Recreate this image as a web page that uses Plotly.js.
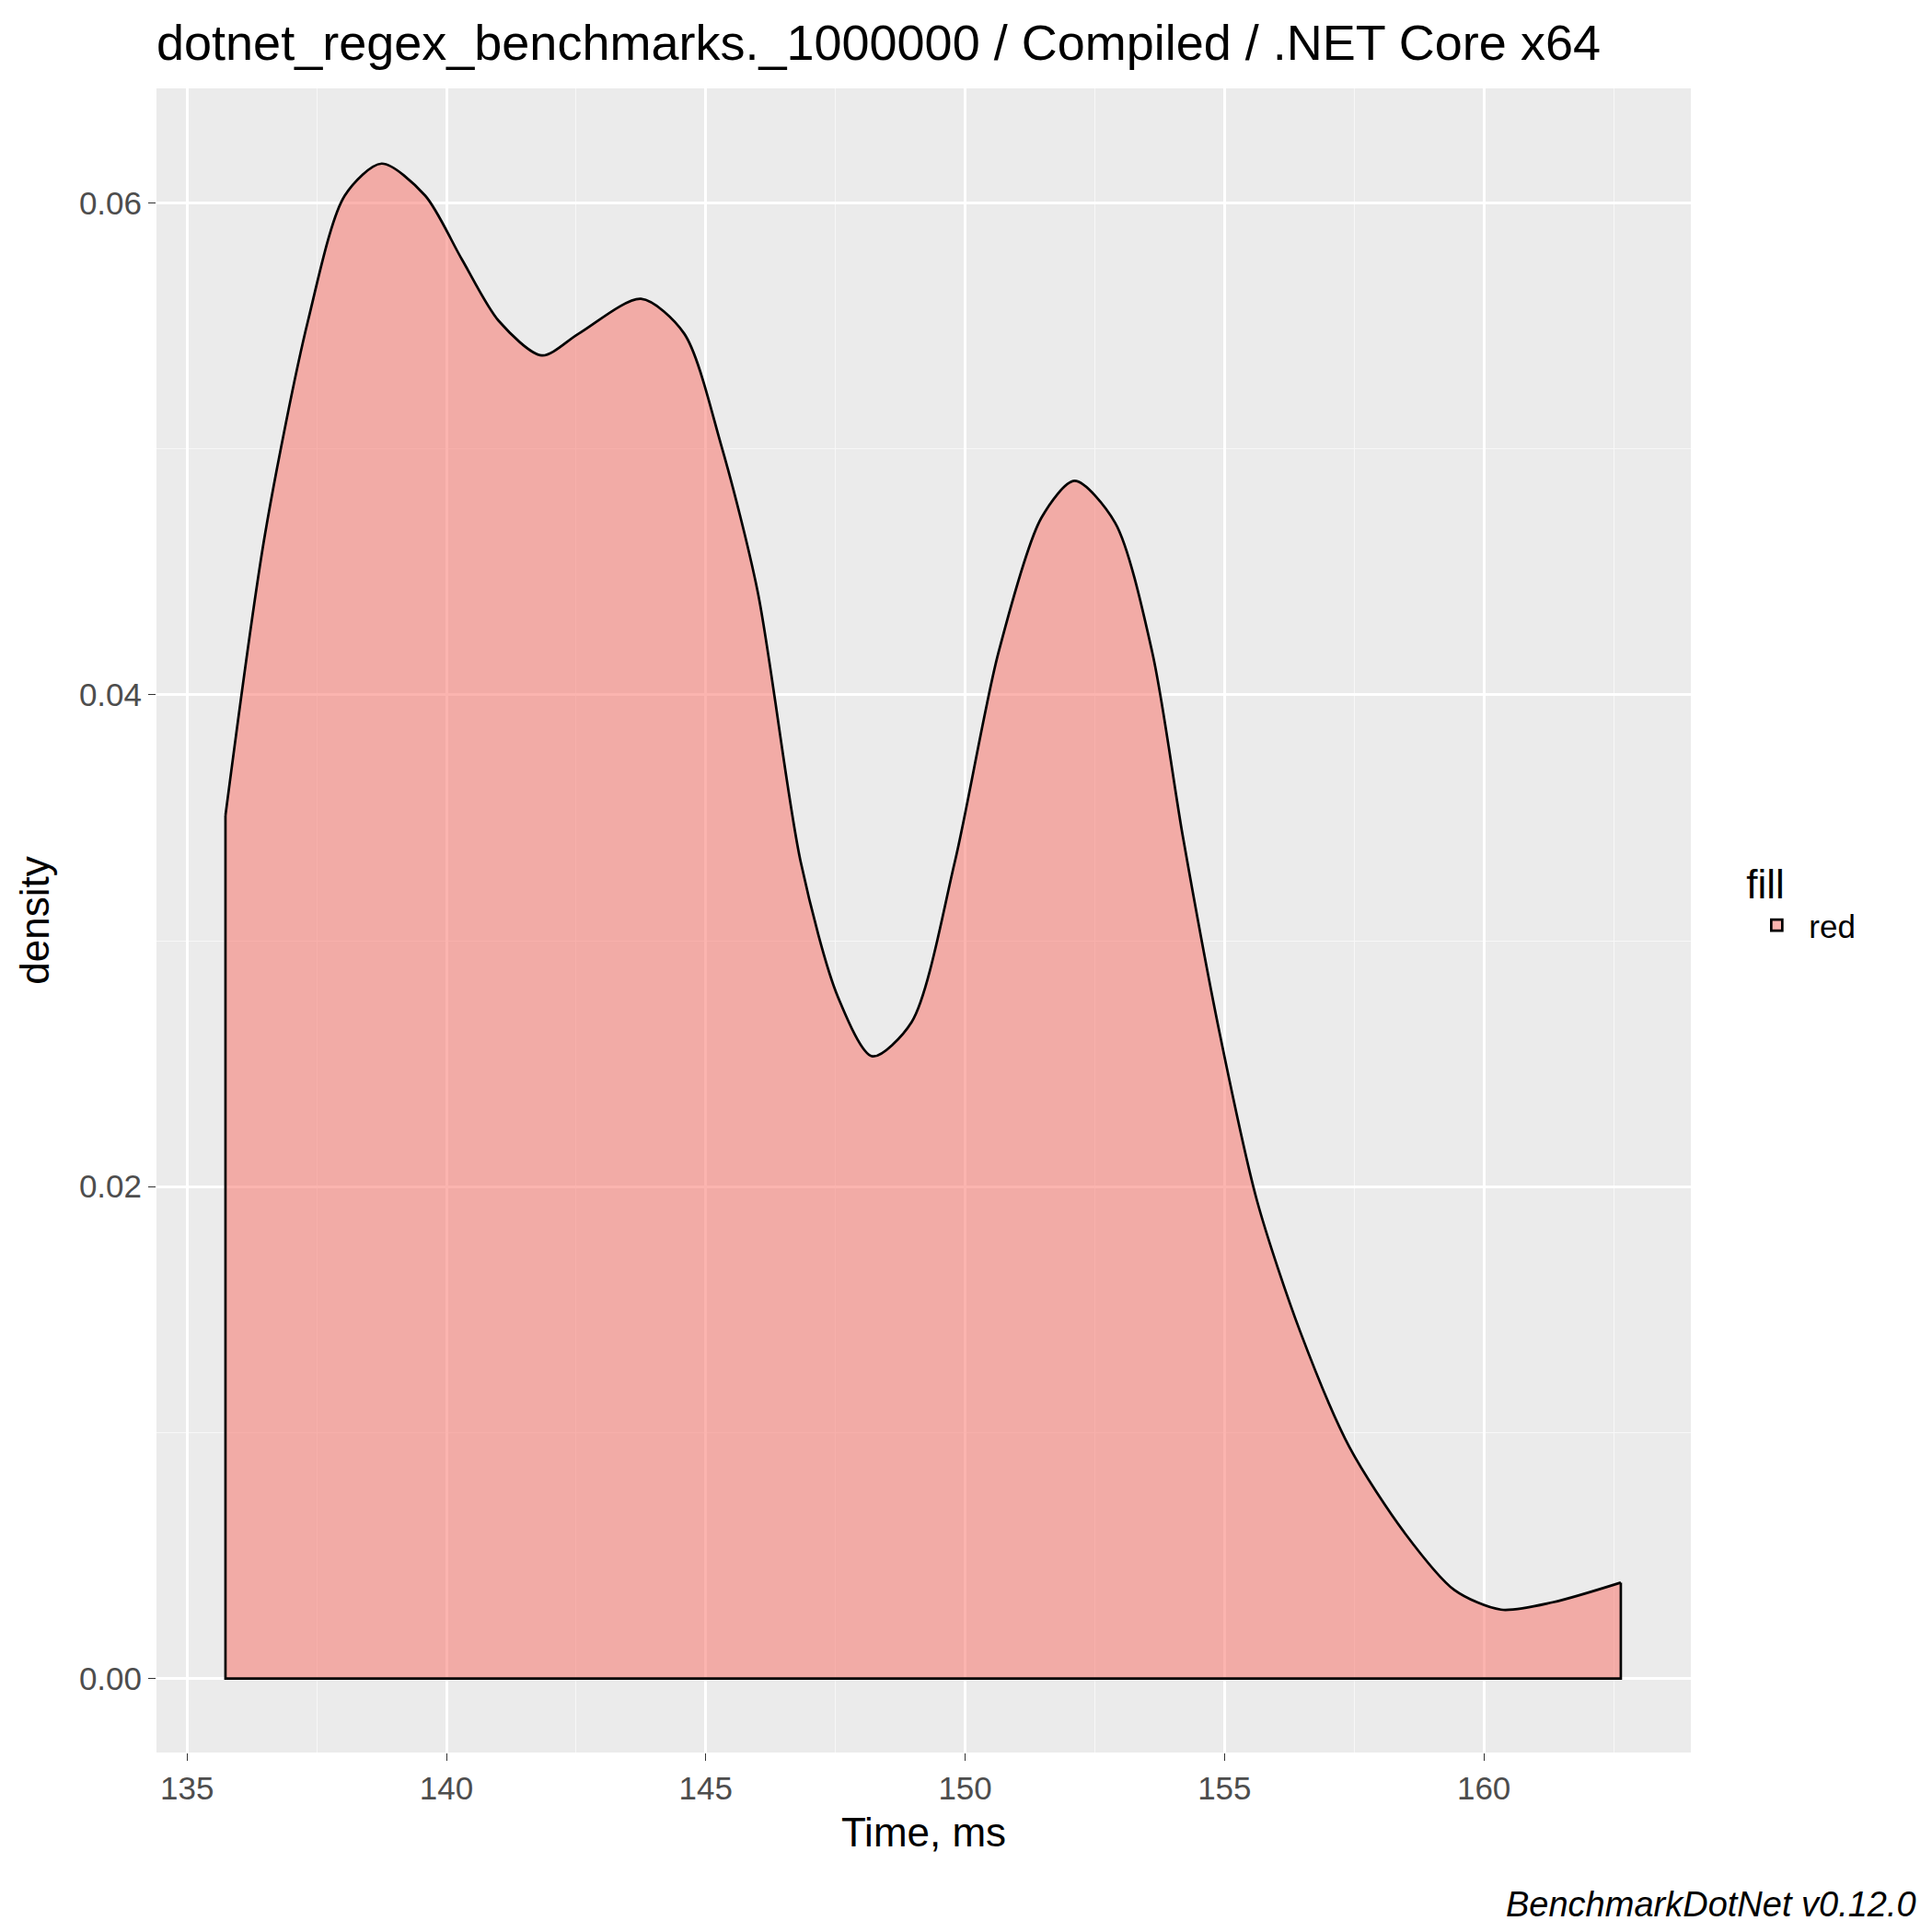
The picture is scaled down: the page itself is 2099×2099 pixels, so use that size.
<!DOCTYPE html>
<html><head><script src="https://cdn.plot.ly/plotly-3.0.1.min.js"></script>
<style>body{margin:0}</style></head><body>
<div id="c" style="width:2099px;height:2099px"></div>
<script>
const timeMs = [135.74,136.50,137.33,138.04,138.75,139.59,140.30,141.01,141.84,142.56,143.75,144.58,145.29,146.00,146.83,147.55,148.21,148.97,149.80,150.64,151.47,152.11,152.89,153.61,154.20,154.91,155.63,156.46,157.41,158.48,159.43,160.33,161.33,162.64];
const density = [0.0351,0.0465,0.0552,0.0603,0.0616,0.0603,0.0577,0.0552,0.0538,0.0547,0.0561,0.0547,0.0502,0.0442,0.0332,0.0277,0.0253,0.0267,0.0332,0.0417,0.0472,0.0487,0.0470,0.0417,0.0342,0.0262,0.0194,0.0141,0.0094,0.0059,0.0036,0.0028,0.0031,0.0039];
const n = timeMs.length;
const fillCol = 'rgba(248,118,109,0.55)';
const tickFont = {family:'Liberation Sans, Arial', size:35, color:'#4d4d4d'};
Plotly.newPlot('c', [
 {x: timeMs, y: density, type:'scatter', mode:'lines', fill:'tozeroy', fillcolor:fillCol,
  line:{color:'black', width:2.7, shape:'spline', smoothing:0.8}, showlegend:false, hoverinfo:'skip'},
 {x:[timeMs[0],timeMs[0],timeMs[n-1],timeMs[n-1]], y:[density[0],0,0,density[n-1]], type:'scatter', mode:'lines',
  line:{color:'black', width:2.7}, showlegend:false, hoverinfo:'skip'},
 {x:[null], y:[null], type:'bar', name:'red', marker:{color:fillCol, line:{color:'black', width:2.7}}, showlegend:true}
], {
  width:2099, height:2099,
  margin:{l:170, r:262, t:96, b:195},
  paper_bgcolor:'white', plot_bgcolor:'#ebebeb',
  font:{family:'Liberation Sans, Arial', color:'black'},
  title:{text:'dotnet_regex_benchmarks._1000000 / Compiled / .NET Core x64', x:0.081, xanchor:'left', y:0.978, yanchor:'middle', font:{size:54}},
  xaxis:{range:[134.41,163.99], dtick:5, tick0:135, ticks:'outside', ticklen:8, tickcolor:'#333', tickfont:tickFont,
    gridcolor:'white', gridwidth:2.6, zeroline:false, showline:false,
    minor:{dtick:2.5, tick0:135, showgrid:true, gridcolor:'#f7f7f7', gridwidth:1.3},
    title:{text:'Time, ms', font:{size:44}, standoff:14}},
  yaxis:{range:[-0.00301,0.06466], dtick:0.02, tick0:0, tickformat:'.2f', ticks:'outside', ticklen:8, tickcolor:'#333', tickfont:tickFont,
    gridcolor:'white', gridwidth:2.6, zeroline:false, showline:false,
    minor:{dtick:0.01, tick0:0, showgrid:true, gridcolor:'#f7f7f7', gridwidth:1.3},
    title:{text:'density', font:{size:44}, standoff:18}},
  legend:{x:1.035, y:0.545, xanchor:'left', yanchor:'top', title:{text:'fill', font:{size:44}}, font:{size:35}, bgcolor:'rgba(0,0,0,0)', itemwidth:60},
  annotations:[{text:'<i>BenchmarkDotNet v0.12.0</i>', xref:'paper', yref:'paper', x:1.148, y:-0.091, xanchor:'right', yanchor:'middle', showarrow:false, font:{size:38}}]
}, {displayModeBar:false});
</script></body></html>
